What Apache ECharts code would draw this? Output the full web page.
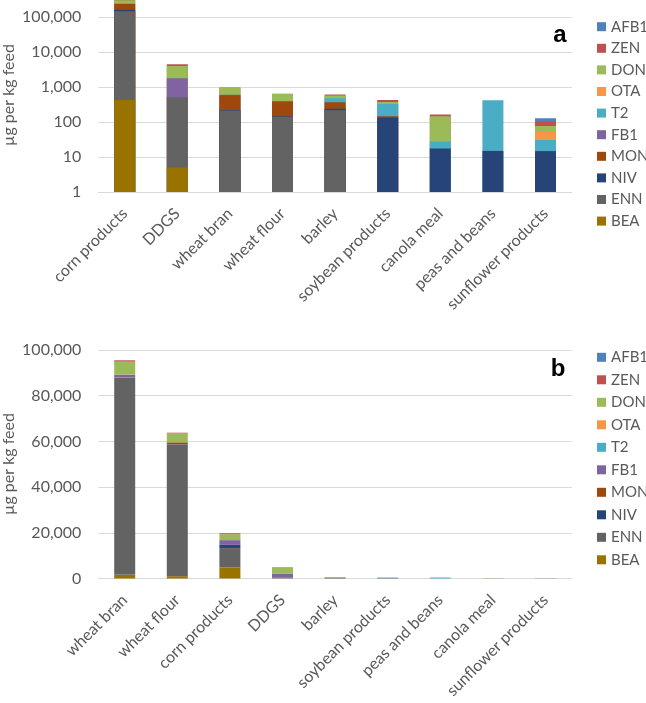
<!DOCTYPE html>
<html>
<head>
<meta charset="utf-8">
<script src="https://cdn.jsdelivr.net/npm/echarts@6/dist/echarts.min.js"></script>
<style>html,body{margin:0;padding:0;background:#fff}#c{width:646px;height:703px}</style>
</head>
<body>
<div id="c"></div>
<script>
// ---------- data ----------
const toxins = ['BEA', 'ENN', 'NIV', 'MON', 'FB1', 'T2', 'OTA', 'DON', 'ZEN', 'AFB1'];
const legendOrder = ['AFB1', 'ZEN', 'DON', 'OTA', 'T2', 'FB1', 'MON', 'NIV', 'ENN', 'BEA'];

// panel a (log scale)
const catsA = ['corn products', 'DDGS', 'wheat bran', 'wheat flour', 'barley', 'soybean products', 'canola meal', 'peas and beans', 'sunflower products'];
const a_BEA  = [430, 5, null, null, null, null, null, null, null];
const a_ENN  = [150000, 513, 215, 142, 220, null, null, null, null];
const a_NIV  = [15000, null, 8, 5, 20, 136, 17.7, 15, 14.8];
const a_MON  = [80000, null, 370, 250, 133, 12, null, null, null];
const a_FB1  = [null, 1290, 15, null, null, null, null, null, null];
const a_T2   = [null, null, null, null, 110, 180, 10, 410, 16];
const a_OTA  = [null, null, null, null, null, null, null, null, 21];
const a_DON  = [64000, 2250, 340, 240, 95, 50, 120, null, 26];
const a_ZEN  = [5000, 480, 30, 10, 40, 55, 18, null, 24];
const a_AFB1 = [null, null, null, null, null, null, null, null, 28];

// panel b (linear scale)
const catsB = ['wheat bran', 'wheat flour', 'corn products', 'DDGS', 'barley', 'soybean products', 'peas and beans', 'canola meal', 'sunflower products'];
const b_BEA  = [1600, 1000, 4800, 30, null, null, null, null, null];
const b_ENN  = [86300, 57800, 8500, 500, 250, null, null, null, null];
const b_NIV  = [null, null, 1400, null, 20, 150, 15, 18, 15];
const b_MON  = [null, 800, null, null, 130, 12, null, null, null];
const b_FB1  = [1300, null, 2100, 1500, null, null, null, null, null];
const b_T2   = [null, null, null, null, 110, 180, 410, 10, 16];
const b_OTA  = [null, null, null, null, null, null, null, null, 21];
const b_DON  = [5700, 3900, 2600, 2700, 95, 50, null, 120, 26];
const b_ZEN  = [600, 300, 400, 200, 40, 55, null, 18, 24];
const b_AFB1 = [null, null, null, null, null, null, null, null, 28];

const yTicksA = [1, 10, 100, 1000, 10000, 100000];
const yTicksB = [0, 20000, 40000, 60000, 80000, 100000];
// ---------- /data ----------

const dataA = {BEA: a_BEA, ENN: a_ENN, NIV: a_NIV, MON: a_MON, FB1: a_FB1, T2: a_T2, OTA: a_OTA, DON: a_DON, ZEN: a_ZEN, AFB1: a_AFB1};
const dataB = {BEA: b_BEA, ENN: b_ENN, NIV: b_NIV, MON: b_MON, FB1: b_FB1, T2: b_T2, OTA: b_OTA, DON: b_DON, ZEN: b_ZEN, AFB1: b_AFB1};
const colors = {
  BEA: '#997300', ENN: '#636363', NIV: '#264478', MON: '#9e480e', FB1: '#8064a2',
  T2: '#4bacc6', OTA: '#f79646', DON: '#9bbb59', ZEN: '#c0504d', AFB1: '#4f81bd'
};
const FONT = 'Lato';
const TXT = '#595959';

// Panel a: stacked on a log axis, built as overlapping bars of running totals
// (each segment top = cumulative sum, lower segments painted over higher ones).
const running = catsA.map(() => 0);
const cumA = {};
toxins.forEach(t => {
  cumA[t] = dataA[t].map((v, i) => {
    if (v == null) return '-';
    running[i] += v;
    return running[i];
  });
});

const series = [];
toxins.slice().reverse().forEach(t => {
  series.push({name: t, type: 'bar', xAxisIndex: 0, yAxisIndex: 0, barWidth: 21, barGap: '-100%',
    itemStyle: {color: colors[t]}, data: cumA[t]});
});
toxins.forEach(t => {
  series.push({name: t, type: 'bar', stack: 'b', xAxisIndex: 1, yAxisIndex: 1, barWidth: 21,
    itemStyle: {color: colors[t]}, data: dataB[t].map(v => v == null ? '-' : v)});
});

const fmt = v => Math.round(v).toLocaleString('en-US');
const catLabel = {rotate: 45, interval: 0, color: TXT, fontFamily: FONT, fontSize: 16, margin: 19};

// one legend entry per component so each row sits exactly where it should
const legends = [];
[[26.7, 21.6], [357.3, 22.5]].forEach(([start, step]) => {
  legendOrder.forEach((name, k) => {
    legends.push({
      orient: 'vertical', left: 597, top: start + k * step - 8, padding: 0, itemGap: 0,
      itemWidth: 9, itemHeight: 9, icon: 'rect', data: [name],
      textStyle: {color: TXT, fontFamily: FONT, fontSize: 15, lineHeight: 16}
    });
  });
});

const chart = echarts.init(document.getElementById('c'), null, {renderer: 'canvas'});
chart.setOption({
  animation: false,
  backgroundColor: '#fff',
  grid: [
    {left: 98.4, right: 74.2, top: -17.6, bottom: 511, outerBoundsMode: 'none', containLabel: false},
    {left: 98.4, right: 74.2, top: 350, bottom: 124.5, outerBoundsMode: 'none', containLabel: false}
  ],
  xAxis: [
    {type: 'category', gridIndex: 0, data: catsA, axisTick: {show: false},
      axisLine: {lineStyle: {color: '#d9d9d9'}}, axisLabel: catLabel},
    {type: 'category', gridIndex: 1, data: catsB, axisTick: {show: false},
      axisLine: {lineStyle: {color: '#d9d9d9'}}, axisLabel: catLabel}
  ],
  yAxis: [
    {type: 'log', logBase: 10, gridIndex: 0, min: yTicksA[0], max: yTicksA[yTicksA.length - 1] * 10,
      axisLine: {show: false}, axisTick: {show: false},
      splitLine: {lineStyle: {color: '#d9d9d9'}},
      axisLabel: {color: TXT, fontFamily: FONT, fontSize: 16, margin: 17, formatter: fmt}},
    {type: 'value', gridIndex: 1, min: yTicksB[0], max: yTicksB[yTicksB.length - 1], interval: yTicksB[1] - yTicksB[0],
      axisLine: {show: false}, axisTick: {show: false},
      splitLine: {lineStyle: {color: '#d9d9d9'}},
      axisLabel: {color: TXT, fontFamily: FONT, fontSize: 16, margin: 17, formatter: fmt}}
  ],
  legend: legends,
  graphic: [
    {type: 'text', x: 9, y: 95, rotation: Math.PI / 2,
      style: {text: 'µg per kg feed', fill: TXT, font: '16px Lato', align: 'center', verticalAlign: 'middle'}},
    {type: 'text', x: 9, y: 464, rotation: Math.PI / 2,
      style: {text: 'µg per kg feed', fill: TXT, font: '16px Lato', align: 'center', verticalAlign: 'middle'}},
    {type: 'text', x: 560, y: 35,
      style: {text: 'a', fill: '#000', font: 'bold 24px "Liberation Sans", Arial', align: 'center', verticalAlign: 'middle'}},
    {type: 'text', x: 558, y: 369,
      style: {text: 'b', fill: '#000', font: 'bold 24px "Liberation Sans", Arial', align: 'center', verticalAlign: 'middle'}}
  ],
  series: series
});
</script>
</body>
</html>
